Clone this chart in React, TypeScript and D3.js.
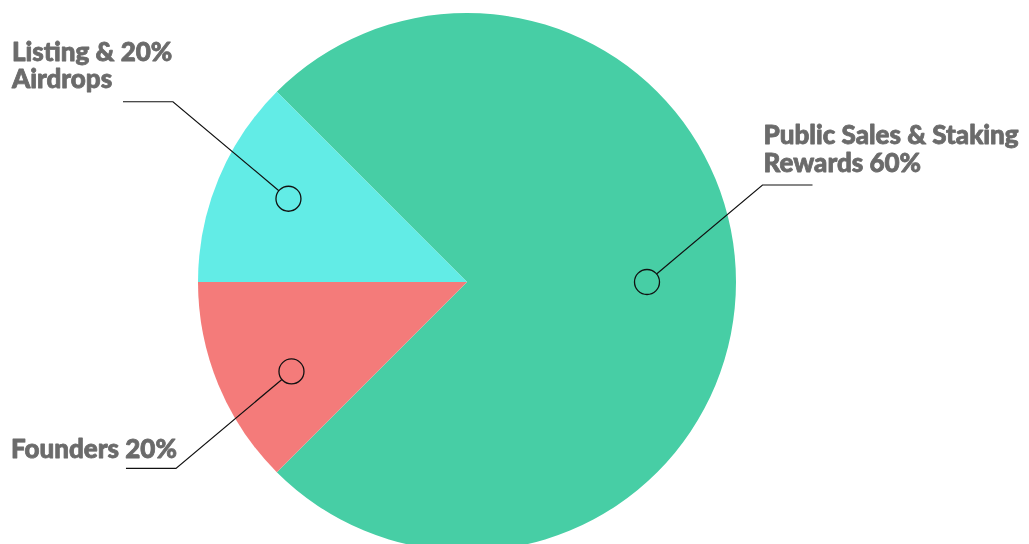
import React from 'react';
import * as d3 from 'd3';

// slice shares as drawn (angles), labels keep their printed text
const categories = ['Public Sales & Staking Rewards', 'Founders', 'Listing & Airdrops'];
const shares = [75, 12.5, 12.5];
const labelLines = [
  ['Public Sales & Staking', 'Rewards 60%'],
  ['Founders 20%'],
  ['Listing & 20%', 'Airdrops'],
];
const colors = ['#47cea5', '#f47b7a', '#62ece6'];

const W = 1029;
const H = 544;
const cx = 467;
const cy = 282;
const R = 269;

function App() {
  const pie = d3
    .pie<number>()
    .sort(null)
    .value((d) => d)
    .startAngle(-Math.PI / 4)
    .endAngle(Math.PI * 2 - Math.PI / 4);
  const arcs = pie(shares);
  const arc = d3.arc<d3.PieArcDatum<number>>().innerRadius(0).outerRadius(R);

  return (
    <div style={{ position: 'fixed', left: 0, top: 0 }}>
      <svg width={W} height={H} style={{ display: 'block' }}>
        <g transform={`translate(${cx},${cy})`}>
          {arcs.map((a, i) => (
            <path key={categories[i]} d={arc(a) || ''} fill={colors[i]} />
          ))}
          {arcs.map((a, i) => {
            let mid = (a.startAngle + a.endAngle) / 2;
            // small slices: marker nudged a little off the slice centre
            if (i > 0) mid += ((mid > Math.PI * 1.5 ? 2.5 : -4.5) * Math.PI) / 180;
            const rad = i === 0 ? 180 : 197;
            const [mx, my] = d3.pointRadial(mid, rad);
            const sx = mx >= 0 ? 1 : -1;
            const sy = my > 5 ? 1 : -1;
            const ex = mx + sx * 115.5;
            const ey = my + sy * 97;
            const hx = ex + sx * 50;
            const len = Math.hypot(ex - mx, ey - my);
            const r = 12.5;
            const x0 = mx + ((ex - mx) / len) * r;
            const y0 = my + ((ey - my) / len) * r;
            const lines = labelLines[i];
            const lh = 27.5;
            const tx = sx > 0 ? ex + 1 : ex - (i === 1 ? 165 : 161);
            const lastBase = ey - (i === 1 ? 10 : 13.5);
            return (
              <g key={'m' + i}>
                <circle cx={mx} cy={my} r={r} fill="none" stroke="#111" strokeWidth={1.3} />
                <polyline
                  points={`${x0},${y0} ${ex},${ey} ${hx},${ey}`}
                  fill="none"
                  stroke="#111"
                  strokeWidth={1.2}
                />
                {lines.map((t, j) => (
                  <text
                    key={j}
                    x={tx}
                    y={lastBase - (lines.length - 1 - j) * lh}
                    fontFamily="Lato, 'Open Sans', sans-serif"
                    fontWeight={900}
                    fontSize={26}
                    fill="#6b6b6b"
                    stroke="#6b6b6b"
                    strokeWidth={0.8}
                    strokeLinejoin="round"
                  >
                    {t}
                  </text>
                ))}
              </g>
            );
          })}
        </g>
      </svg>
    </div>
  );
}

export default App;
